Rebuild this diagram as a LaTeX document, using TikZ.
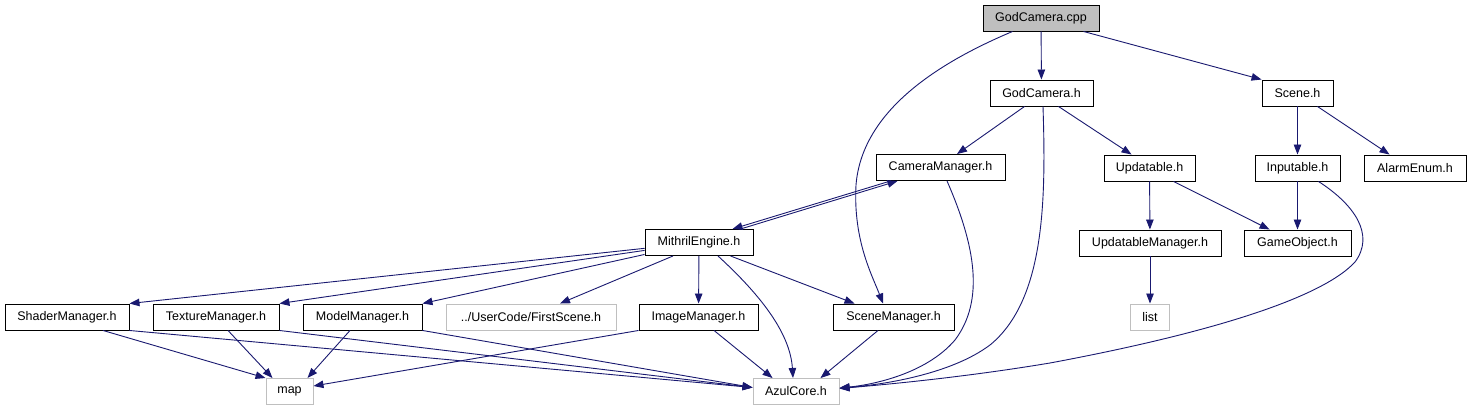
\documentclass[tikz,border=0pt]{standalone}
\usepackage{fontspec}
\setmainfont{Liberation Sans}
\usetikzlibrary{arrows.meta}
\definecolor{edgec}{HTML}{191970}
\definecolor{grayb}{HTML}{BFBFBF}
\begin{document}
\begin{tikzpicture}[x=1pt,y=-1pt,
  box/.style={draw=black, line width=0.95pt, minimum height=26pt, inner sep=0pt, font=\fontsize{12.5}{14}\selectfont, text=black},
  gbox/.style={box, draw=grayb},
  dep/.style={draw=edgec, line width=0.9pt, -{Triangle[length=10pt,width=7.5pt]}}]
\useasboundingbox (0,0) rectangle (1471,411);
\fill[white] (0,0) rectangle (1471,411);
% nodes
\node[box, minimum width=116pt, fill=grayb] (cpp) at (1041,18) {GodCamera.cpp};
\node[box, minimum width=103pt] (godh) at (1041.5,93) {GodCamera.h};
\node[box, minimum width=71pt] (scene) at (1297.5,93) {Scene.h};
\node[box, minimum width=85pt] (inp) at (1297.5,168) {Inputable.h};
\node[box, minimum width=102pt] (alarm) at (1415,168) {AlarmEnum.h};
\node[box, minimum width=91pt] (upd) at (1149.5,168) {Updatable.h};
\node[box, minimum width=129pt] (cam) at (940.5,167.5) {CameraManager.h};
\node[box, minimum width=108pt] (mith) at (699,242.5) {MithrilEngine.h};
\node[box, minimum width=142pt] (updm) at (1150,243) {UpdatableManager.h};
\node[box, minimum width=107pt] (gobj) at (1297.5,243) {GameObject.h};
\node[gbox, minimum width=39pt] (list) at (1150,317) {list};
\node[box, minimum width=124pt] (shader) at (67,317) {ShaderManager.h};
\node[box, minimum width=126pt] (tex) at (216,317) {TextureManager.h};
\node[box, minimum width=119pt] (model) at (362.5,317) {ModelManager.h};
\node[gbox, minimum width=170pt] (first) at (531,317) {../UserCode/FirstScene.h};
\node[box, minimum width=119pt] (image) at (698.5,317) {ImageManager.h};
\node[box, minimum width=121pt] (scm) at (893.5,317) {SceneManager.h};
\node[gbox, minimum width=47pt] (map) at (289.5,391.5) {map};
\node[gbox, minimum width=86pt] (azul) at (796,391.5) {AzulCore.h};
% edges
\draw[dep] (cpp) -- (godh);
\draw[dep] ([xshift=-16pt]cpp.south east) -- (scene.north west);
\draw[dep] ([xshift=30pt]cpp.south west) .. controls (940,62) and (862,110) .. (856,185)
  .. controls (853,240) and (872,275) .. ([xshift=-10.5pt]scm.north);
\draw[dep] ([xshift=35pt]godh.south west) -- ([xshift=16.5pt]cam.north);
\draw[dep] ([xshift=-35pt]godh.south east) -- ([xshift=28pt]upd.north west);
\draw[dep] ([xshift=1.5pt]godh.south) .. controls (1046,200) and (1045,300) .. (990,345)
  .. controls (950,375) and (880,385) .. ([yshift=3.5pt]azul.east);
\draw[dep] (scene) -- (inp);
\draw[dep] ([xshift=-16pt]scene.south east) -- ([xshift=26pt]alarm.north west);
\draw[dep] (inp) -- (gobj);
\draw[dep] ([xshift=-22pt]inp.south east) .. controls (1355,205) and (1375,235) .. (1355,262)
  .. controls (1320,300) and (1200,335) .. (1050,363)
  .. controls (960,378) and (880,385) .. ([yshift=3pt]azul.east);
\draw[dep] (upd) -- (updm);
\draw[dep] ([xshift=-22pt]upd.south east) -- ([xshift=26pt]gobj.north west);
\draw[dep] (updm) -- (list);
\draw[dep] ([xshift=15pt]cam.south west) -- ([xshift=-21pt]mith.north east);
\draw[dep] ([xshift=-13pt]mith.north east) -- ([xshift=22pt]cam.south west);
\draw[dep] ([xshift=6.5pt]cam.south) .. controls (975,245) and (985,300) .. (955,340)
  .. controls (925,375) and (870,385) .. ([yshift=3.5pt]azul.east);
\draw[dep] (mith) -- (shader.north east);
\draw[dep] (mith) -- (tex.north east);
\draw[dep] (mith) -- (model.north east);
\draw[dep] ([xshift=-26pt]mith.south) -- ([xshift=29pt]first.north);
\draw[dep] (mith) -- (image);
\draw[dep] ([xshift=19pt]mith.south) .. controls (755,290) and (790,330) .. ([xshift=-3pt]azul.north);
\draw[dep] ([xshift=-23pt]mith.south east) -- ([xshift=22pt]scm.north west);
\draw[dep] ([xshift=36pt]shader.south) -- (map.north west);
\draw[dep] (shader.south east) -- ([yshift=4pt]azul.west);
\draw[dep] ([xshift=12pt]tex.south) -- ([xshift=-17pt]map.north);
\draw[dep] (tex.south east) -- ([yshift=4pt]azul.west);
\draw[dep] ([xshift=-12.5pt]model.south) -- ([xshift=-6pt]map.north east);
\draw[dep] (model.south east) -- ([yshift=4pt]azul.west);
\draw[dep] (image.south west) -- ([yshift=5.5pt]map.east);
\draw[dep] ([xshift=15.5pt]image.south) -- ([xshift=20pt]azul.north west);
\draw[dep] ([xshift=-15.5pt]scm.south) -- ([xshift=-19pt]azul.north east);
\end{tikzpicture}
\end{document}
